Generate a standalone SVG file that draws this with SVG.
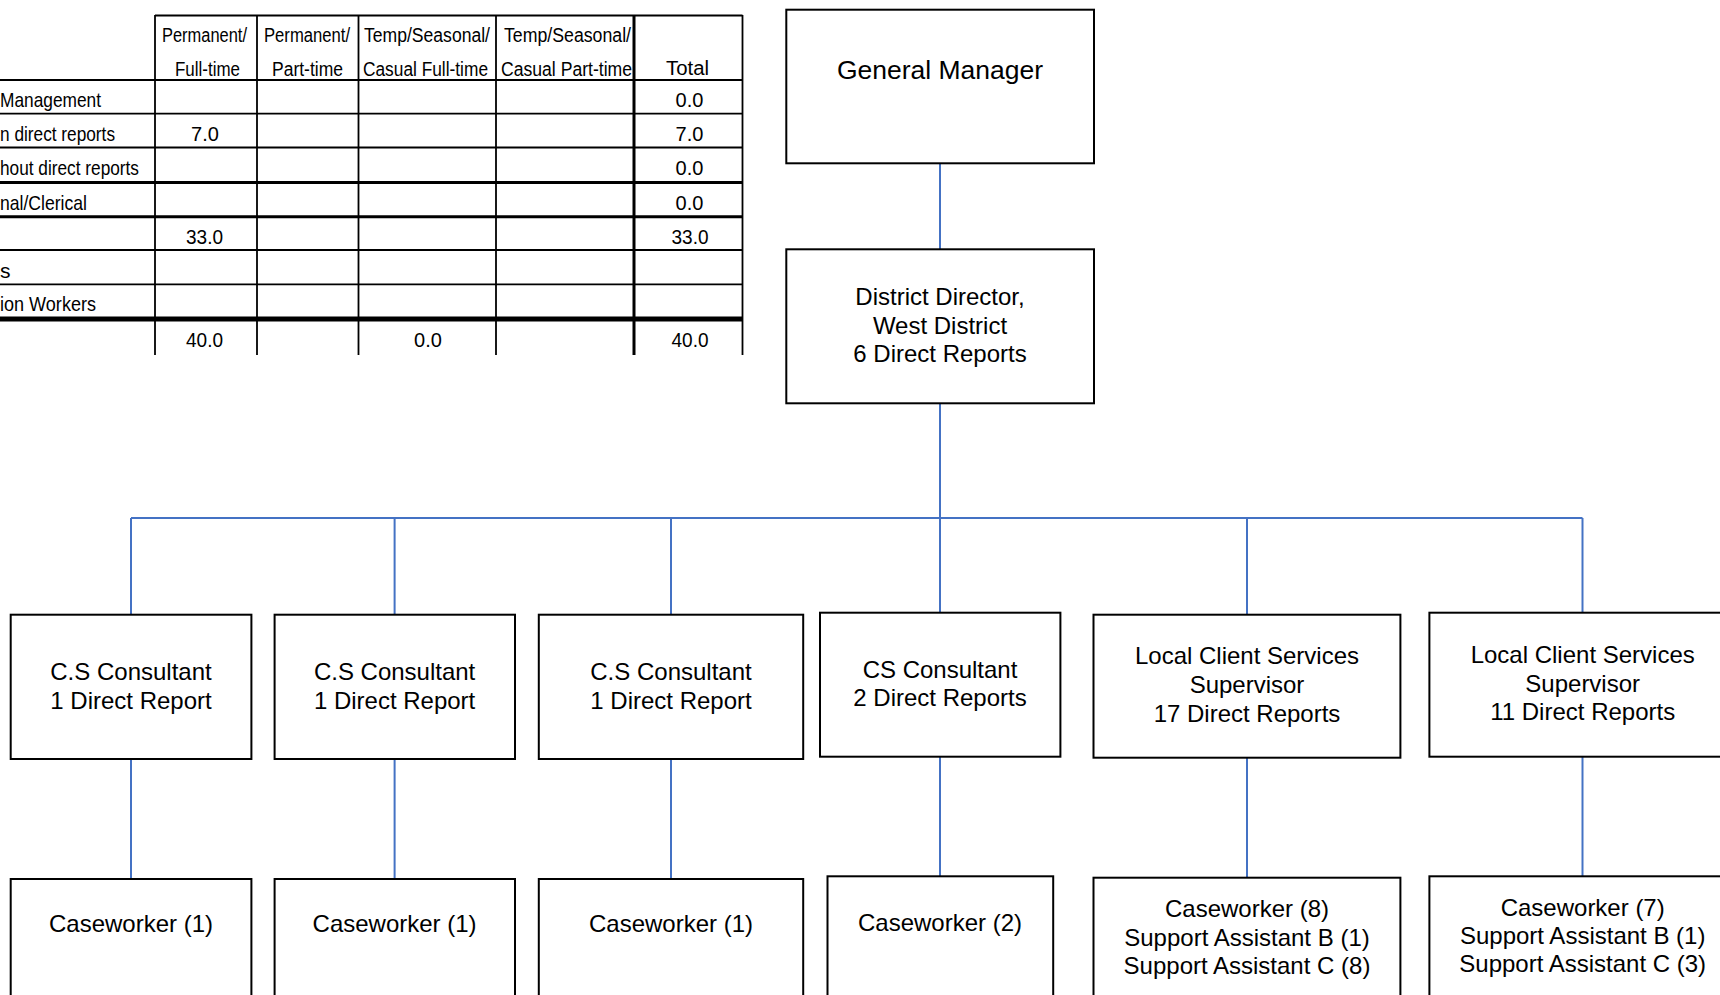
<svg xmlns="http://www.w3.org/2000/svg" width="1720" height="995" viewBox="0 0 1720 995">
<style>
.box{fill:#fff;stroke:#000;stroke-width:2}
.t{font-family:"Liberation Sans",Arial,sans-serif;font-size:24px;text-anchor:middle;fill:#000}
.gm{font-size:26.5px}
.conn{stroke:#4472C4;stroke-width:2;fill:none}
.tb{font-family:"Liberation Sans",Arial,sans-serif;font-size:21px;fill:#000}
.th{font-family:"Liberation Sans",Arial,sans-serif;font-size:20px;fill:#000}
.tn{font-family:"Liberation Sans",Arial,sans-serif;font-size:20px;fill:#000;text-anchor:middle}
.g{stroke:#000;stroke-width:1.8;fill:none}
.g3{stroke:#000;stroke-width:3;fill:none}
.g5{stroke:#000;stroke-width:5;fill:none}
</style>
<rect width="1720" height="995" fill="#fff"/>

<g id="table">
  <line class="g" x1="155" y1="15.5" x2="742.5" y2="15.5"/>
  <line class="g" x1="0" y1="80" x2="742.5" y2="80"/>
  <line class="g" x1="0" y1="113.7" x2="742.5" y2="113.7"/>
  <line class="g" x1="0" y1="147.5" x2="742.5" y2="147.5"/>
  <line class="g3" x1="0" y1="182.5" x2="742.5" y2="182.5"/>
  <line class="g3" x1="0" y1="216.7" x2="742.5" y2="216.7"/>
  <line class="g" x1="0" y1="250" x2="742.5" y2="250"/>
  <line class="g" x1="0" y1="284.3" x2="742.5" y2="284.3"/>
  <line class="g5" x1="0" y1="319" x2="742.5" y2="319"/>
  <line class="g" x1="155" y1="15" x2="155" y2="355"/>
  <line class="g" x1="257" y1="15" x2="257" y2="355"/>
  <line class="g" x1="358.5" y1="15" x2="358.5" y2="355"/>
  <line class="g" x1="496" y1="15" x2="496" y2="355"/>
  <line class="g3" x1="634" y1="15" x2="634" y2="355"/>
  <line class="g" x1="742.5" y1="15" x2="742.5" y2="355"/>

  <text class="th" x="162" y="42" textLength="85" lengthAdjust="spacingAndGlyphs">Permanent/</text>
  <text class="th" x="264" y="42" textLength="86" lengthAdjust="spacingAndGlyphs">Permanent/</text>
  <text class="th" x="364" y="42" textLength="126" lengthAdjust="spacingAndGlyphs">Temp/Seasonal/</text>
  <text class="th" x="504" y="42" textLength="127" lengthAdjust="spacingAndGlyphs">Temp/Seasonal/</text>
  <text class="th" x="175" y="75.5" textLength="65" lengthAdjust="spacingAndGlyphs">Full-time</text>
  <text class="th" x="272" y="75.5" textLength="71" lengthAdjust="spacingAndGlyphs">Part-time</text>
  <text class="th" x="363" y="75.5" textLength="125" lengthAdjust="spacingAndGlyphs">Casual Full-time</text>
  <text class="th" x="501" y="75.5" textLength="131" lengthAdjust="spacingAndGlyphs">Casual Part-time</text>
  <text class="th" x="666" y="74.5" font-size="23" textLength="43" lengthAdjust="spacingAndGlyphs">Total</text>

  <text class="tb" x="0" y="106.5" textLength="101" lengthAdjust="spacingAndGlyphs">Management</text>
  <text class="tb" x="0" y="140.5" textLength="115" lengthAdjust="spacingAndGlyphs">n direct reports</text>
  <text class="tb" x="0" y="175" textLength="139" lengthAdjust="spacingAndGlyphs">hout direct reports</text>
  <text class="tb" x="0" y="209.5" textLength="87" lengthAdjust="spacingAndGlyphs">nal/Clerical</text>
  <text class="tb" x="0" y="277.5">s</text>
  <text class="tb" x="0" y="311" textLength="96" lengthAdjust="spacingAndGlyphs">ion Workers</text>

  <text class="tn" x="205" y="140.5">7.0</text>
  <text class="tn" x="204.5" y="243.5" textLength="37" lengthAdjust="spacingAndGlyphs">33.0</text>
  <text class="tn" x="204.5" y="347" textLength="37" lengthAdjust="spacingAndGlyphs">40.0</text>
  <text class="tn" x="428" y="347">0.0</text>
  <text class="tn" x="689.5" y="106.5">0.0</text>
  <text class="tn" x="689.5" y="140.5">7.0</text>
  <text class="tn" x="689.5" y="175">0.0</text>
  <text class="tn" x="689.5" y="209.5">0.0</text>
  <text class="tn" x="690" y="243.5" textLength="37" lengthAdjust="spacingAndGlyphs">33.0</text>
  <text class="tn" x="690" y="347" textLength="37" lengthAdjust="spacingAndGlyphs">40.0</text>
</g>

<g id="connectors">
  <line class="conn" x1="940" y1="163" x2="940" y2="249"/>
  <line class="conn" x1="940" y1="403" x2="940" y2="518"/>
  <line class="conn" x1="131" y1="518" x2="1582.5" y2="518" stroke-width="2.5"/>
  <line class="conn" x1="131" y1="518" x2="131" y2="614.7"/>
  <line class="conn" x1="394.6" y1="518" x2="394.6" y2="614.7"/>
  <line class="conn" x1="671" y1="518" x2="671" y2="614.7"/>
  <line class="conn" x1="940" y1="518" x2="940" y2="612.7"/>
  <line class="conn" x1="1247" y1="518" x2="1247" y2="614.7"/>
  <line class="conn" x1="1582.5" y1="518" x2="1582.5" y2="612.7"/>
  <line class="conn" x1="131" y1="759" x2="131" y2="879"/>
  <line class="conn" x1="394.6" y1="759" x2="394.6" y2="879"/>
  <line class="conn" x1="671" y1="759" x2="671" y2="879"/>
  <line class="conn" x1="940" y1="756.7" x2="940" y2="876.3"/>
  <line class="conn" x1="1247" y1="757.7" x2="1247" y2="877.7"/>
  <line class="conn" x1="1582.5" y1="756.7" x2="1582.5" y2="876.3"/>
</g>

<g id="gm">
  <rect class="box" x="786.3" y="9.7" width="307.7" height="153.6"/>
  <text class="t gm" x="940" y="79">General Manager</text>
</g>
<g id="dd">
  <rect class="box" x="786.3" y="249.3" width="307.7" height="154"/>
  <text class="t" x="940" y="304.7">District Director,</text>
  <text class="t" x="940" y="333.5">West District</text>
  <text class="t" x="940" y="362.3">6 Direct Reports</text>
</g>

<g id="cs1">
  <rect class="box" x="10.7" y="614.7" width="240.7" height="144.3"/>
  <text class="t" x="131" y="680">C.S Consultant</text>
  <text class="t" x="131" y="709">1 Direct Report</text>
</g>
<g id="cs2">
  <rect class="box" x="274.6" y="614.7" width="240.4" height="144.3"/>
  <text class="t" x="394.6" y="680">C.S Consultant</text>
  <text class="t" x="394.6" y="709">1 Direct Report</text>
</g>
<g id="cs3">
  <rect class="box" x="538.8" y="614.7" width="264.4" height="144.3"/>
  <text class="t" x="671" y="680">C.S Consultant</text>
  <text class="t" x="671" y="709">1 Direct Report</text>
</g>
<g id="cs4">
  <rect class="box" x="820" y="612.7" width="240.4" height="144"/>
  <text class="t" x="940" y="677.7">CS Consultant</text>
  <text class="t" x="940" y="706">2 Direct Reports</text>
</g>
<g id="lcs1">
  <rect class="box" x="1093.5" y="614.7" width="306.9" height="143"/>
  <text class="t" x="1247" y="664.3">Local Client Services</text>
  <text class="t" x="1247" y="693.3">Supervisor</text>
  <text class="t" x="1247" y="721.7">17 Direct Reports</text>
</g>
<g id="lcs2">
  <rect class="box" x="1429.4" y="612.7" width="320" height="144"/>
  <text class="t" x="1582.7" y="662.7">Local Client Services</text>
  <text class="t" x="1582.7" y="691.5">Supervisor</text>
  <text class="t" x="1582.7" y="720">11 Direct Reports</text>
</g>

<g id="cw1">
  <rect class="box" x="10.7" y="879" width="240.7" height="140"/>
  <text class="t" x="131" y="931.7">Caseworker (1)</text>
</g>
<g id="cw2">
  <rect class="box" x="274.6" y="879" width="240.4" height="140"/>
  <text class="t" x="394.6" y="931.7">Caseworker (1)</text>
</g>
<g id="cw3">
  <rect class="box" x="538.8" y="879" width="264.4" height="140"/>
  <text class="t" x="671" y="931.7">Caseworker (1)</text>
</g>
<g id="cw4">
  <rect class="box" x="827.5" y="876.3" width="225.7" height="140"/>
  <text class="t" x="940" y="930.7">Caseworker (2)</text>
</g>
<g id="cw5">
  <rect class="box" x="1093.5" y="877.7" width="306.9" height="140"/>
  <text class="t" x="1247" y="916.7">Caseworker (8)</text>
  <text class="t" x="1247" y="945.7">Support Assistant B (1)</text>
  <text class="t" x="1247" y="974">Support Assistant C (8)</text>
</g>
<g id="cw6">
  <rect class="box" x="1429.4" y="876.3" width="320" height="140"/>
  <text class="t" x="1582.7" y="916">Caseworker (7)</text>
  <text class="t" x="1582.7" y="944">Support Assistant B (1)</text>
  <text class="t" x="1582.7" y="972.3">Support Assistant C (3)</text>
</g>
</svg>
